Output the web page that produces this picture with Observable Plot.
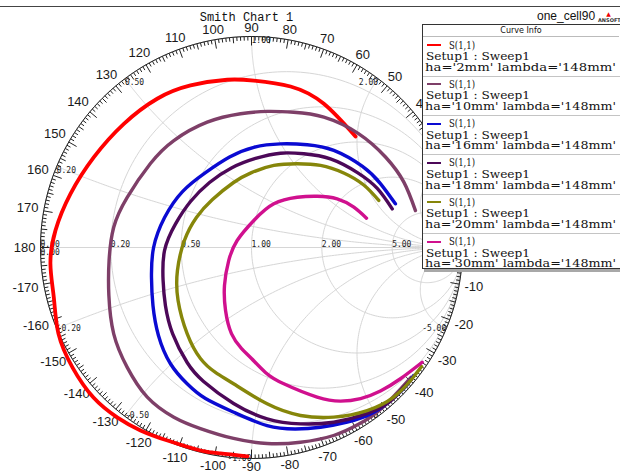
<!DOCTYPE html>
<html><head><meta charset="utf-8">
<script src="https://cdn.jsdelivr.net/npm/d3@7"></script>
<script src="https://cdn.jsdelivr.net/npm/@observablehq/plot@0.6"></script>
<style>
body{margin:0;background:#fff;}
#wrap{position:relative;width:620px;height:475px;overflow:hidden;background:#fff;}
#topline{position:absolute;left:0;top:6px;width:620px;height:1px;background:#444;}
#design{position:absolute;left:537px;top:9px;font:12px "Liberation Sans",sans-serif;line-height:14px;color:#111;}
#ansoft{position:absolute;left:598px;top:11px;width:21px;text-align:center;font:bold 5px "DejaVu Sans",sans-serif;line-height:6px;color:#333;}
#legend{position:absolute;left:422px;top:24px;width:210px;height:243px;border:1px solid #333;background:#fff;box-shadow:2px 3px 0 #a8a8a8;}
#legend .hdr{position:absolute;left:0;top:0;width:196px;height:11px;border-bottom:1px solid #bbb;text-align:center;font:8px "DejaVu Sans",sans-serif;line-height:12px;color:#111;}
#legend .sep{position:absolute;left:0;width:210px;height:1px;background:#c4c4c4;}
#legend .sw{position:absolute;left:4px;width:14px;height:2px;}
#legend .t{position:absolute;font:11.5px "DejaVu Serif",serif;line-height:11px;white-space:pre;color:#111;transform-origin:0 50%;display:inline-block;}
</style></head><body><div id="wrap"><div id="topline"></div></div>
<script>
// ---- data (reflection coefficient: real / imaginary parts) ----
const seriesNames = ["ha='2mm' lambda='148mm'","ha='10mm' lambda='148mm'","ha='16mm' lambda='148mm'","ha='18mm' lambda='148mm'","ha='20mm' lambda='148mm'","ha='30mm' lambda='148mm'"];
const seriesColors = ["#ff0000","#7e3f68","#0a0ad2","#4c0858","#86860a","#d0108e"];
const traceLabel = "S(1,1)";
const setupLabel = "Setup1 : Sweep1";

const re_2mm = [0.493,0.343,0.185,0.011,-0.115,-0.289,-0.447,-0.605,-0.747,-0.858,-0.929,-0.953,-0.937,-0.915,-0.848,-0.749,-0.635,-0.526,-0.398,-0.242,-0.147,-0.019];
const im_2mm = [0.526,0.681,0.763,0.791,0.795,0.768,0.705,0.586,0.428,0.254,0.081,-0.077,-0.236,-0.408,-0.569,-0.711,-0.806,-0.867,-0.915,-0.962,-0.976,-0.990];

const re_10mm = [0.777,0.722,0.635,0.507,0.343,0.200,0.074,-0.052,-0.210,-0.368,-0.479,-0.589,-0.653,-0.675,-0.676,-0.653,-0.589,-0.494,-0.368,-0.242,-0.085,0.074,0.232,0.389,0.509,0.620,0.756];
const im_10mm = [0.175,0.310,0.429,0.540,0.618,0.641,0.645,0.634,0.594,0.507,0.398,0.238,0.096,-0.062,-0.227,-0.409,-0.568,-0.709,-0.804,-0.858,-0.905,-0.929,-0.923,-0.891,-0.837,-0.759,-0.615];

const re_16mm = [0.682,0.611,0.526,0.390,0.264,0.137,0.011,-0.104,-0.218,-0.327,-0.412,-0.464,-0.474,-0.467,-0.441,-0.384,-0.305,-0.218,-0.084,0.074,0.209,0.327,0.454,0.580,0.682,0.735,0.768];
const im_16mm = [0.207,0.303,0.384,0.460,0.487,0.491,0.475,0.429,0.355,0.265,0.142,0.000,-0.141,-0.275,-0.417,-0.551,-0.646,-0.716,-0.781,-0.844,-0.860,-0.852,-0.828,-0.781,-0.706,-0.654,-0.607];

const re_18mm = [0.667,0.596,0.502,0.374,0.248,0.137,0.019,-0.095,-0.199,-0.289,-0.360,-0.412,-0.419,-0.408,-0.374,-0.305,-0.227,-0.085,0.074,0.232,0.390,0.536,0.649,0.712,0.758];
const im_18mm = [0.183,0.280,0.355,0.420,0.444,0.447,0.422,0.377,0.308,0.218,0.112,-0.014,-0.156,-0.275,-0.408,-0.545,-0.635,-0.739,-0.812,-0.836,-0.828,-0.791,-0.735,-0.672,-0.626];

const re_20mm = [0.603,0.532,0.437,0.327,0.217,0.106,0.000,-0.085,-0.185,-0.261,-0.318,-0.351,-0.348,-0.305,-0.242,-0.171,-0.085,0.074,0.232,0.390,0.548,0.674,0.754,0.806];
const im_20mm = [0.223,0.296,0.353,0.389,0.397,0.389,0.355,0.308,0.227,0.142,0.033,-0.109,-0.251,-0.408,-0.526,-0.592,-0.646,-0.741,-0.796,-0.804,-0.773,-0.709,-0.630,-0.564];

const re_30mm = [0.545,0.485,0.406,0.311,0.217,0.106,0.011,-0.068,-0.108,-0.128,-0.123,-0.095,-0.047,0.000,0.066,0.153,0.311,0.422,0.517,0.611,0.706,0.809];
const im_30mm = [0.139,0.191,0.231,0.243,0.238,0.207,0.128,0.033,-0.062,-0.180,-0.299,-0.408,-0.479,-0.526,-0.592,-0.646,-0.709,-0.728,-0.716,-0.680,-0.622,-0.544];

const seriesRe = [re_2mm, re_10mm, re_16mm, re_18mm, re_20mm, re_30mm];
const seriesIm = [im_2mm, im_10mm, im_16mm, im_18mm, im_20mm, im_30mm];

// grid values and tick labels
const resistanceValues = [0.2, 0.5, 1, 2, 5];
const reactanceValues = [0.2, 0.5, 1, 2, 5];
const realAxisLabels = ["0.00","0.20","0.50","1.00","2.00","5.00"];
const realAxisValues = [0, 0.2, 0.5, 1, 2, 5];
const reactLabelValues = [0, 0.2, 0.5, 1, 2, 5, -0.2, -0.5, -1, -2, -5];
const reactLabelTexts = ["0.00","0.20","0.50","1.00","2.00","5.00","-0.20","-0.50","-1.00","-2.00","-5.00"];
const angleLabels = [-170,-160,-150,-140,-130,-120,-110,-100,-90,-80,-70,-60,-50,-40,-30,-20,-10,0,10,20,30,40,50,60,70,80,90,100,110,120,130,140,150,160,170,180];

// ---- geometry helpers ----
const Rpx = 211;
function gamma(a, b) { // z = a + jb
  const d = (a + 1) * (a + 1) + b * b;
  return [(a * a - 1 + b * b) / d, (2 * b) / d];
}
const grid = [];
resistanceValues.forEach((r, k) => {
  const c = r / (1 + r), rad = 1 / (1 + r);
  for (let i = 0; i <= 240; i++) {
    const t = (i / 240) * 2 * Math.PI;
    grid.push({id: "r" + k, x: c + rad * Math.cos(t), y: rad * Math.sin(t)});
  }
});
reactanceValues.forEach((xv, k) => {
  [xv, -xv].forEach((xx, s) => {
    for (let i = 0; i <= 300; i++) {
      const tt = i / 300;
      const a = tt < 1 ? Math.pow(tt, 2) / Math.pow(1 - tt + 1e-4, 3) : 1e6;
      const g = gamma(a, xx);
      grid.push({id: "x" + k + "_" + s, x: g[0], y: g[1]});
    }
  });
});
grid.push({id: "axis", x: -1, y: 0}, {id: "axis", x: 1, y: 0});

const rim = d3.range(0, 361).map(d => ({x: Math.cos(d * Math.PI / 180), y: Math.sin(d * Math.PI / 180)}));
const ticks = d3.range(0, 360).map(d => {
  const len = d % 10 === 0 ? 9 : d % 5 === 0 ? 6 : 4;
  const a = d * Math.PI / 180, r2 = 1 - len / Rpx;
  return {x1: Math.cos(a), y1: Math.sin(a), x2: r2 * Math.cos(a), y2: r2 * Math.sin(a)};
});
const angleText = angleLabels.map(d => {
  const s = String(d);
  const neg = s.startsWith("-");
  const w = (s.length - (neg ? 1 : 0)) * 7.2 + (neg ? 4.4 : 0);
  const a = d * Math.PI / 180;
  const rp = Rpx + 5 + 0.5 * Math.abs(Math.cos(a)) * w + 3.5 * Math.abs(Math.sin(a));
  return {x: rp / Rpx * Math.cos(a), y: rp / Rpx * Math.sin(a), t: s};
});
const realText = realAxisValues.map((r, i) => ({x: (r - 1) / (r + 1), y: 0, t: realAxisLabels[i]}));
const reactText = reactLabelValues.map((xv, i) => {
  const g = gamma(0, xv);
  return {x: g[0], y: g[1], t: reactLabelTexts[i], v: xv, pos: xv > 0,
          start: xv > 0 ? g[0] <= 1e-9 : g[0] < -1e-9};
});

const curves = seriesRe.map((re, k) => re.map((v, i) => ({x: v, y: seriesIm[k][i]})));

const mono = "DejaVu Sans Mono";
const lab = {x: "x", y: "y", text: "t", fontFamily: mono, fontSize: 8, fill: "#222"};
const marks = [
  Plot.line(grid, {x: "x", y: "y", z: "id", stroke: "#d6d6d6", strokeWidth: 1}),
  Plot.line(rim, {x: "x", y: "y", stroke: "#bdbdbd", strokeWidth: 1}),
  Plot.link(ticks, {x1: "x1", y1: "y1", x2: "x2", y2: "y2", stroke: "#222", strokeWidth: 1}),
  Plot.line(rim, {x: "x", y: "y", stroke: "#222", strokeWidth: 1}),
  Plot.text(angleText, {x: "x", y: "y", text: "t", fontFamily: "Liberation Sans", fontSize: 13, fill: "#1a1a1a"}),
  Plot.text(realText, {...lab, textAnchor: "start", lineAnchor: "bottom", dy: -0.5}),
  Plot.text(reactText.filter(d => d.v === 0), {...lab, textAnchor: "start", lineAnchor: "top", dy: 1.5}),
  Plot.text(reactText.filter(d => d.pos && d.start), {...lab, textAnchor: "start", lineAnchor: "top", dy: 1}),
  Plot.text(reactText.filter(d => d.pos && !d.start), {...lab, textAnchor: "end", lineAnchor: "top", dy: 1}),
  Plot.text(reactText.filter(d => d.v < 0 && d.start), {...lab, textAnchor: "start", lineAnchor: "bottom", dy: 2}),
  Plot.text(reactText.filter(d => d.v < 0 && !d.start), {...lab, textAnchor: "end", lineAnchor: "bottom", dy: 2}),
  ...curves.map((c, k) => Plot.line(c, {x: "x", y: "y", curve: "natural", stroke: seriesColors[k], strokeWidth: k === 0 ? 3.8 : 3.4})),
  Plot.text(["Smith Chart 1"], {frameAnchor: "top", lineAnchor: "middle", dy: -19, dx: -5, fontFamily: "Liberation Mono", fontSize: 12, fill: "#111"})
];

const chart = Plot.plot({
  width: 620, height: 475,
  marginLeft: 40, marginRight: 158, marginTop: 36, marginBottom: 17,
  x: {domain: [-1, 1], axis: null},
  y: {domain: [-1, 1], axis: null},
  style: {background: "transparent", overflow: "visible"},
  marks
});
chart.style.position = "absolute";
chart.style.left = "0px";
chart.style.top = "0px";
const wrap = document.getElementById("wrap");
wrap.appendChild(chart);

// legend
const lg = document.createElement("div"); lg.id = "legend";
let html = '<div class="hdr">Curve Info</div>';
seriesNames.forEach((n, i) => {
  const top = 12 + i * 39.3;
  if (i > 0) html += `<div class="sep" style="top:${(top - 0.5).toFixed(1)}px"></div>`;
  html += `<div class="sw" style="top:${(top + 7).toFixed(1)}px;background:${seriesColors[i]}"></div>`;
  html += `<div class="t" data-w="26" style="left:26px;top:${(top + 2.5).toFixed(1)}px">${traceLabel}</div>`;
  html += `<div class="t" data-w="104" style="left:3px;top:${(top + 14).toFixed(1)}px">${setupLabel}</div>`;
  html += `<div class="t" data-w="191" style="left:2px;top:${(top + 24.8).toFixed(1)}px">${n}</div>`;
});
lg.innerHTML = html;
wrap.appendChild(lg);
lg.querySelectorAll(".t").forEach(el => {
  const w = el.getBoundingClientRect().width;
  const target = +el.dataset.w;
  if (w > 0) el.style.transform = `scaleX(${(target / w).toFixed(3)})`;
});

// header texts (on top of the legend border)
const des = document.createElement("div"); des.id = "design"; des.textContent = "one_cell90"; wrap.appendChild(des);
const ans = document.createElement("div"); ans.id = "ansoft"; ans.innerHTML = '<span style="color:#e00;font-size:6px">&#9650;</span><br>ANSOFT'; wrap.appendChild(ans);
</script></body></html>
